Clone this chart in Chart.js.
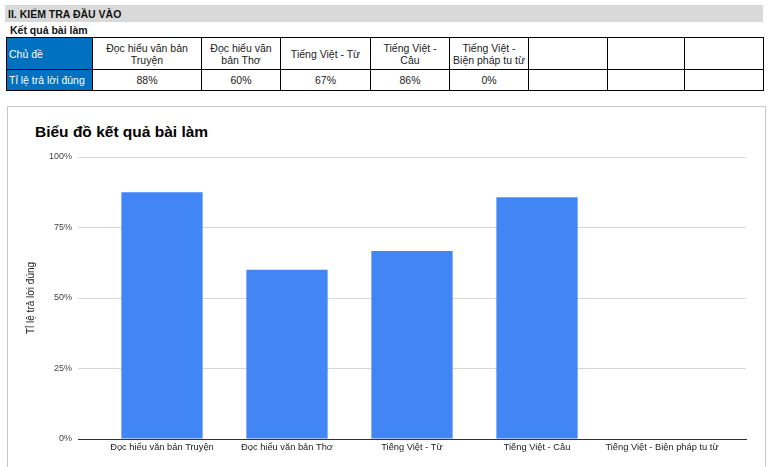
<!DOCTYPE html>
<html>
<head>
<meta charset="utf-8">
<script src="https://cdn.jsdelivr.net/npm/chart.js@4.4.1/dist/chart.umd.min.js"></script>
<style>
  html, body { margin: 0; padding: 0; background: #fff; overflow: hidden; }
  body { width: 775px; height: 467px; position: relative; font-family: Arial, "Liberation Sans", sans-serif; color: #222; }
  #secbar { position: absolute; left: 5px; top: 5px; width: 758px; height: 17px; background: #d9d9d9; }
  #secbar span { position: absolute; left: 3px; top: 0; line-height: 18px; font-size: 10.5px; font-weight: bold; color: #111; }
  #subtitle { position: absolute; left: 10px; top: 23px; line-height: 14px; font-size: 10.5px; font-weight: bold; color: #111; }
  #tbl { position: absolute; left: 6px; top: 37px; border-left: 1px solid #000; border-top: 1px solid #000;
         display: grid; grid-template-columns: 86px 109px 79px 90px 79px 79px 79px 77px 79px; grid-template-rows: 32px 21px; }
  #tbl div { box-sizing: border-box; border-right: 1px solid #000; border-bottom: 1px solid #000;
             display: flex; align-items: center; justify-content: center; text-align: center;
             font-size: 10.5px; line-height: 12px; padding: 0 3px; color: #222; }
  #tbl div.head { background: #0070c0; color: #fff; justify-content: flex-start; text-align: left; padding-left: 2px; }
  #chartbox { position: absolute; left: 7px; top: 106px; width: 757px; height: 420px; border: 1px solid #c6c6c6; }
  #ctitle { position: absolute; left: 35px; top: 121px; line-height: 22px; font-size: 15.5px; font-weight: bold; color: #000; }
  #cwrap { position: absolute; left: 8px; top: 107px; width: 756px; height: 360px; }
</style>
</head>
<body>
<div id="secbar"><span>II. KIỂM TRA ĐẦU VÀO</span></div>
<div id="subtitle">Kết quả bài làm</div>
<div id="tbl"></div>
<div id="chartbox"></div>
<div id="ctitle">Biểu đồ kết quả bài làm</div>
<div id="cwrap"><canvas id="c" width="756" height="360"></canvas></div>
<script>
// ---- data ----
const categories = [
  "Đọc hiểu văn bản Truyện",
  "Đọc hiểu văn bản Thơ",
  "Tiếng Việt - Từ",
  "Tiếng Việt - Câu",
  "Tiếng Việt - Biện pháp tu từ"
];
const values = [87.5, 60, 66.7, 85.7, 0];
const yTickValues = [0, 25, 50, 75, 100];
const rowLabels = ["Chủ đề", "Tỉ lệ trả lời đúng"];
const emptyColumns = 3;
const yAxisTitle = "Tỉ lệ trả lời đúng";

// ---- table ----
const tbl = document.getElementById('tbl');
function cell(text, cls) {
  const d = document.createElement('div');
  if (cls) d.className = cls;
  d.textContent = text;
  tbl.appendChild(d);
}
cell(rowLabels[0], 'head');
categories.forEach(c => cell(c));
for (let i = 0; i < emptyColumns; i++) cell('');
cell(rowLabels[1], 'head');
values.forEach(v => cell(Math.round(v) + '%'));
for (let i = 0; i < emptyColumns; i++) cell('');

// ---- chart ----
Chart.defaults.font.family = 'Arial, "Liberation Sans", sans-serif';
const half = 0.672;
new Chart(document.getElementById('c'), {
  type: 'bar',
  data: {
    datasets: [{
      data: values.map((v, i) => ({ x: i, y: v })),
      backgroundColor: '#4285f4',
      borderWidth: 0,
      barPercentage: 0.65,
      categoryPercentage: 1
    }]
  },
  options: {
    responsive: false,
    devicePixelRatio: 1,
    animation: false,
    layout: { padding: { left: 0, right: 18, top: 50, bottom: 0 } },
    plugins: { legend: { display: false }, tooltip: { enabled: false }, title: { display: false } },
    scales: {
      x: {
        type: 'linear',
        offset: false,
        min: -half,
        max: categories.length - 1 + half,
        grid: { display: false, drawTicks: false },
        border: { display: true, color: '#333', width: 1 },
        afterBuildTicks: s => { s.ticks = categories.map((_, i) => ({ value: i })); },
        afterFit: s => { s.height = 28; },
        ticks: {
          autoSkip: false, maxRotation: 0, minRotation: 0, padding: 3,
          color: '#222', font: { size: 9.3 },
          callback: v => categories[v] !== undefined ? categories[v] : ''
        }
      },
      y: {
        min: 0, max: 100,
        afterBuildTicks: s => { s.ticks = yTickValues.map(v => ({ value: v })); },
        afterFit: s => { s.width = 70; },
        grid: {
          drawTicks: false,
          color: c => (c.tick && c.tick.value === 0) ? '#333' : '#d6d6d6',
          lineWidth: 1
        },
        border: { display: false },
        ticks: { padding: 6, color: '#444', font: { size: 9 }, callback: v => v + '%' },
        title: { display: true, text: yAxisTitle, color: '#222', font: { size: 10 }, padding: { top: 17, bottom: 0 } }
      }
    }
  }
});
</script>
</body>
</html>
